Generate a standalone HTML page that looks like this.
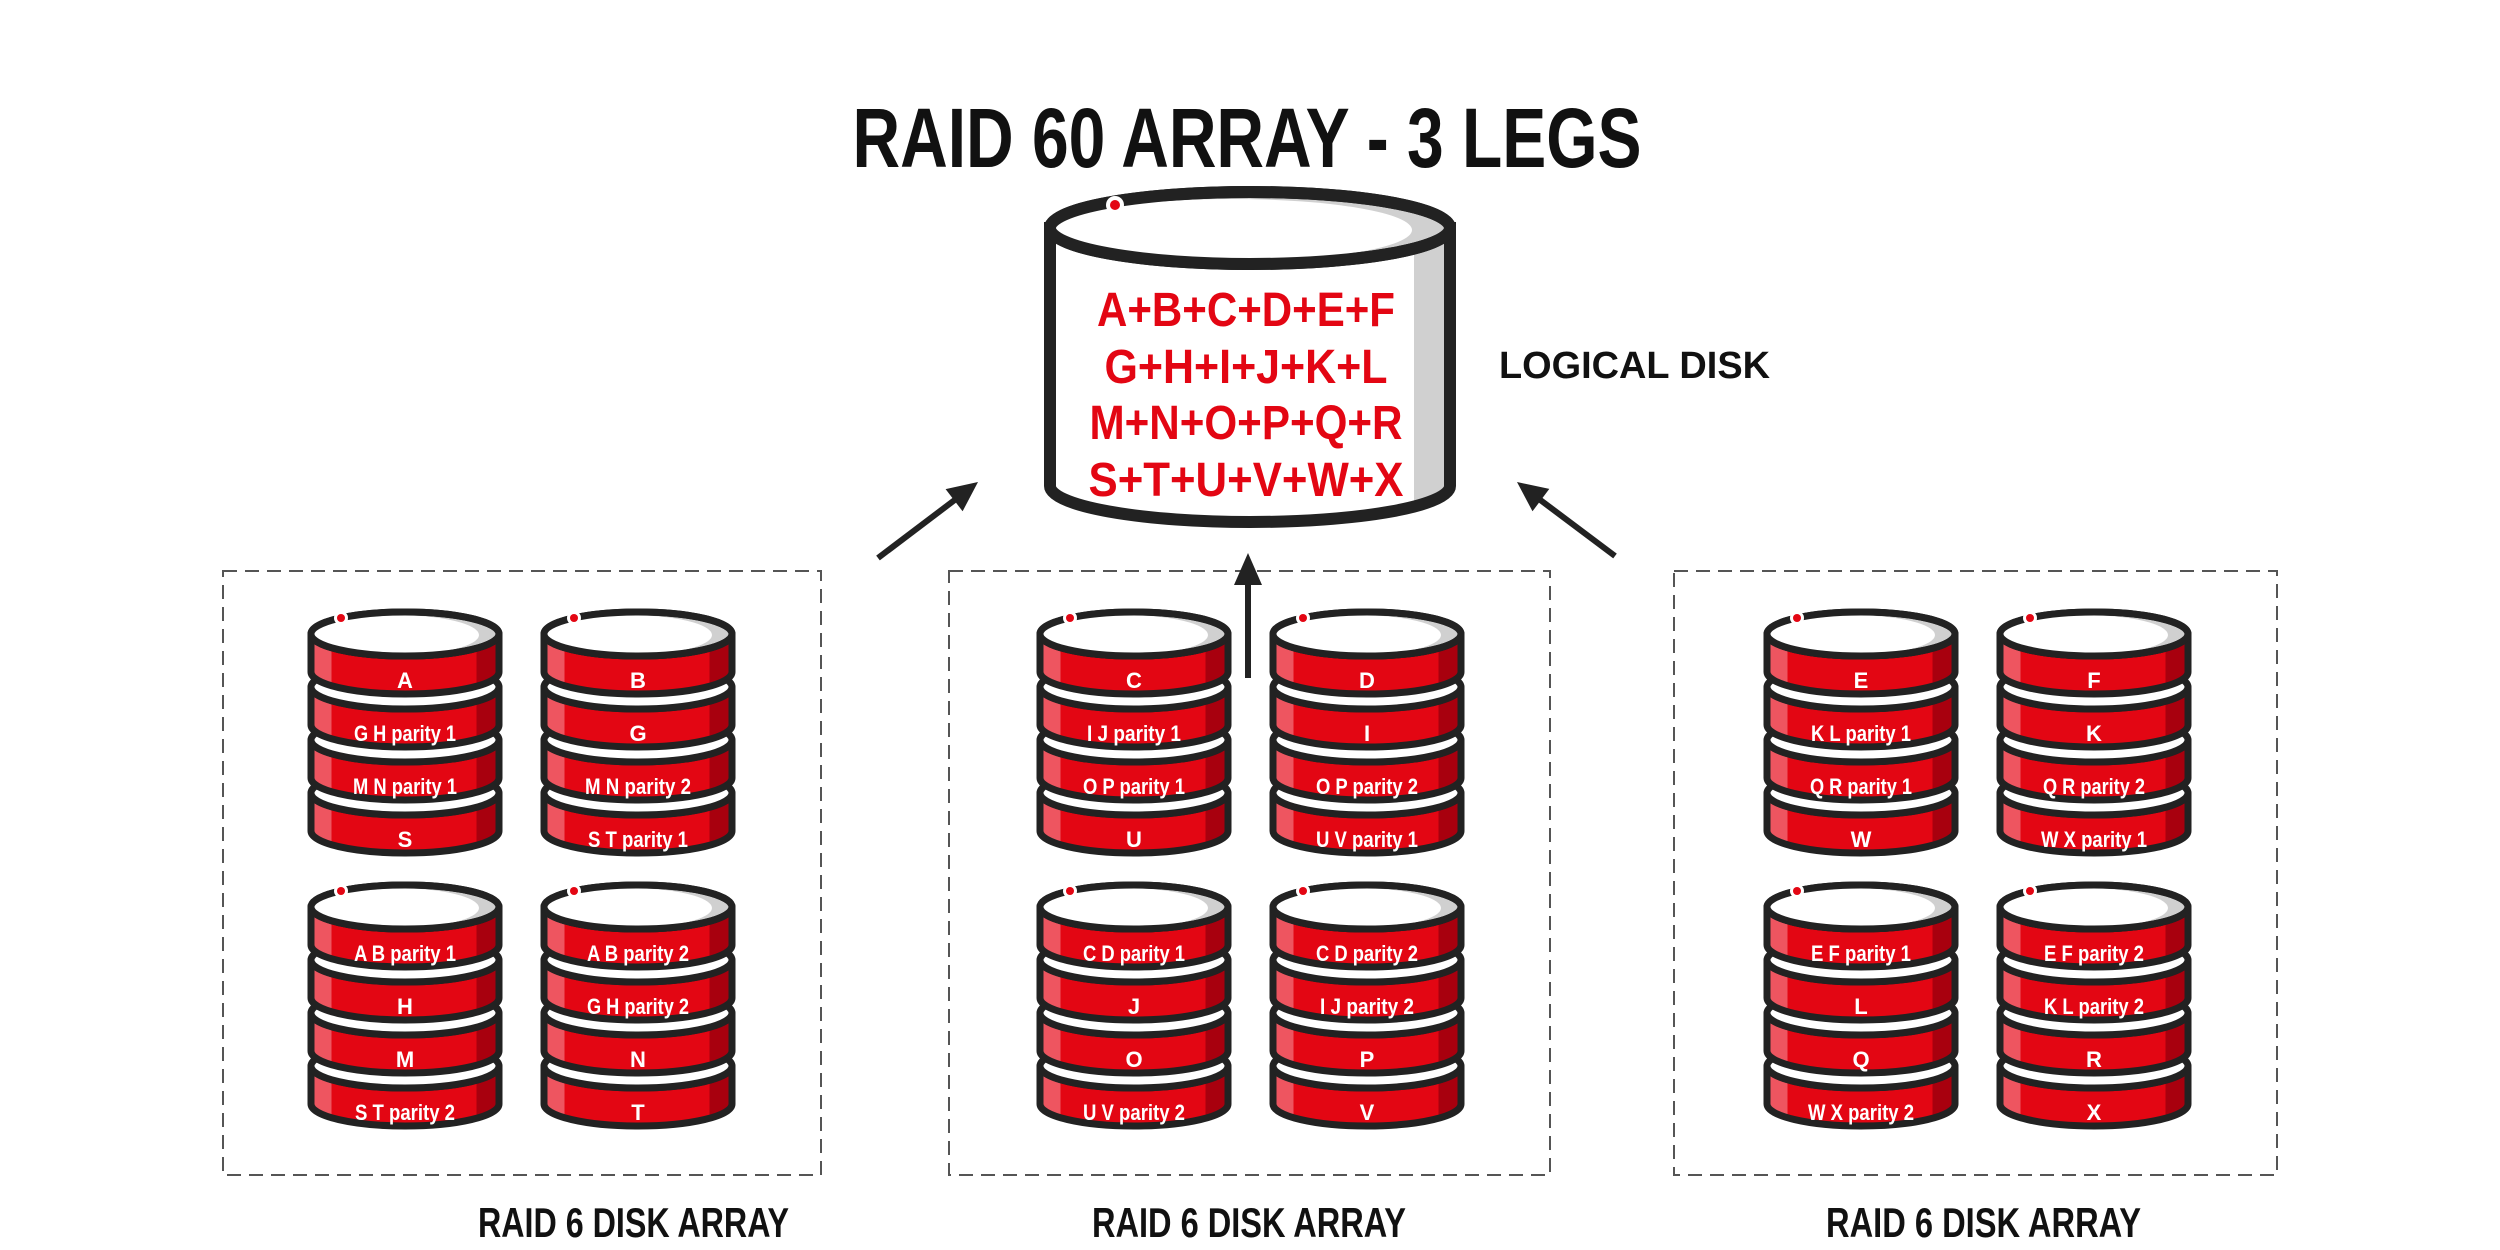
<!DOCTYPE html>
<html><head><meta charset="utf-8"><style>
html,body{margin:0;padding:0;background:#fff;}
svg{display:block;}
.t{font-family:"Liberation Sans Narrow","Liberation Sans",sans-serif;font-weight:bold;}
.l{font-family:"Liberation Sans Narrow","Liberation Sans",sans-serif;font-weight:bold;fill:#fff;font-size:22px;text-anchor:middle;}
</style></head><body>
<svg width="2500" height="1250" viewBox="0 0 2500 1250" xmlns="http://www.w3.org/2000/svg">
<defs>
<linearGradient id="side" x1="0" x2="1" y1="0" y2="0">
<stop offset="0" stop-color="#ee5560"/><stop offset="0.11" stop-color="#ee5560"/>
<stop offset="0.11" stop-color="#e30613"/><stop offset="0.88" stop-color="#e30613"/>
<stop offset="0.88" stop-color="#a8000e"/><stop offset="1" stop-color="#a8000e"/>
</linearGradient>
<linearGradient id="bigside" x1="0" x2="1" y1="0" y2="0">
<stop offset="0" stop-color="#fff"/><stop offset="0.91" stop-color="#fff"/><stop offset="0.91" stop-color="#d0d0d0"/><stop offset="1" stop-color="#d0d0d0"/>
</linearGradient>
<g id="stack" stroke="#222" stroke-width="7" stroke-linejoin="round">
<path d="M6 185 V223 A94 22 0 0 0 194 223 V185 A94 22 0 0 1 6 185 Z" fill="url(#side)"/>
<ellipse cx="100" cy="185" rx="94" ry="22" fill="#fff"/>
<path d="M6 132 V170 A94 22 0 0 0 194 170 V132 A94 22 0 0 1 6 132 Z" fill="url(#side)"/>
<ellipse cx="100" cy="132" rx="94" ry="22" fill="#fff"/>
<path d="M6 79 V117 A94 22 0 0 0 194 117 V79 A94 22 0 0 1 6 79 Z" fill="url(#side)"/>
<ellipse cx="100" cy="79" rx="94" ry="22" fill="#fff"/>
<path d="M6 26 V64 A94 22 0 0 0 194 64 V26 A94 22 0 0 1 6 26 Z" fill="url(#side)"/>
<ellipse cx="100" cy="26" rx="94" ry="22" fill="#d0d0d0"/>
<ellipse cx="90" cy="27" rx="84" ry="20" fill="#fff" stroke="none"/>
<ellipse cx="100" cy="26" rx="94" ry="22" fill="none"/>
<circle cx="36" cy="10" r="7" fill="#fff" stroke="none"/>
<circle cx="36" cy="10" r="4" fill="#e30613" stroke="none"/>
</g>
</defs>

<text class="t" x="1247" y="167" font-size="84" text-anchor="middle" textLength="789" lengthAdjust="spacingAndGlyphs" fill="#111">RAID 60 ARRAY - 3 LEGS</text>

<g stroke="#222" stroke-width="12">
<path d="M1050 228 V486 A200 36 0 0 0 1450 486 V228 Z" fill="url(#bigside)"/>
<ellipse cx="1250" cy="228" rx="200" ry="36" fill="#d0d0d0"/>
<ellipse cx="1232" cy="230" rx="180" ry="31" fill="#fff" stroke="none"/>
<ellipse cx="1250" cy="228" rx="200" ry="36" fill="none"/>
</g>
<circle cx="1115" cy="205" r="9" fill="#fff"/>
<circle cx="1115" cy="205" r="5" fill="#e30613"/>
<g class="t" fill="#e30613" font-size="48" text-anchor="middle">
<text x="1246" y="326" textLength="298" lengthAdjust="spacingAndGlyphs">A+B+C+D+E+F</text>
<text x="1246" y="383" textLength="283" lengthAdjust="spacingAndGlyphs">G+H+I+J+K+L</text>
<text x="1246" y="439" textLength="313" lengthAdjust="spacingAndGlyphs">M+N+O+P+Q+R</text>
<text x="1246" y="496" textLength="315" lengthAdjust="spacingAndGlyphs">S+T+U+V+W+X</text>
</g>
<text class="t" x="1499" y="378" font-size="38" textLength="271" lengthAdjust="spacingAndGlyphs" fill="#111">LOGICAL DISK</text>

<g fill="none" stroke="#555" stroke-width="2" stroke-dasharray="14 8">
<rect x="223" y="571" width="598" height="604"/>
<rect x="949" y="571" width="601" height="604"/>
<rect x="1674" y="571" width="603" height="604"/>
</g>

<g stroke="#222" stroke-width="6">
<line x1="878" y1="558" x2="956" y2="499"/>
<line x1="1248" y1="678" x2="1248" y2="582"/>
<line x1="1615" y1="556" x2="1539" y2="499"/>
</g>
<g fill="#222">
<polygon points="978,482 962.6,511.3 945.6,489.1"/>
<polygon points="1248,553 1262,585 1234,585"/>
<polygon points="1517,482 1549.3,488.9 1532.5,511.3"/>
</g>

<use href="#stack" x="305" y="608"/><use href="#stack" x="538" y="608"/>
<use href="#stack" x="305" y="881"/><use href="#stack" x="538" y="881"/>
<use href="#stack" x="1034" y="608"/><use href="#stack" x="1267" y="608"/>
<use href="#stack" x="1034" y="881"/><use href="#stack" x="1267" y="881"/>
<use href="#stack" x="1761" y="608"/><use href="#stack" x="1994" y="608"/>
<use href="#stack" x="1761" y="881"/><use href="#stack" x="1994" y="881"/>

<g class="l">
<text x="405" y="688">A</text>
<text x="405" y="741" textLength="102" lengthAdjust="spacingAndGlyphs">G H parity 1</text>
<text x="405" y="794" textLength="104" lengthAdjust="spacingAndGlyphs">M N parity 1</text>
<text x="405" y="847">S</text>
<text x="638" y="688">B</text>
<text x="638" y="741">G</text>
<text x="638" y="794" textLength="106" lengthAdjust="spacingAndGlyphs">M N parity 2</text>
<text x="638" y="847" textLength="100" lengthAdjust="spacingAndGlyphs">S T parity 1</text>
<text x="405" y="961" textLength="102" lengthAdjust="spacingAndGlyphs">A B parity 1</text>
<text x="405" y="1014">H</text>
<text x="405" y="1067">M</text>
<text x="405" y="1120" textLength="100" lengthAdjust="spacingAndGlyphs">S T parity 2</text>
<text x="638" y="961" textLength="102" lengthAdjust="spacingAndGlyphs">A B parity 2</text>
<text x="638" y="1014" textLength="102" lengthAdjust="spacingAndGlyphs">G H parity 2</text>
<text x="638" y="1067">N</text>
<text x="638" y="1120">T</text>

<text x="1134" y="688">C</text>
<text x="1134" y="741" textLength="94" lengthAdjust="spacingAndGlyphs">I J parity 1</text>
<text x="1134" y="794" textLength="102" lengthAdjust="spacingAndGlyphs">O P parity 1</text>
<text x="1134" y="847">U</text>
<text x="1367" y="688">D</text>
<text x="1367" y="741">I</text>
<text x="1367" y="794" textLength="102" lengthAdjust="spacingAndGlyphs">O P parity 2</text>
<text x="1367" y="847" textLength="102" lengthAdjust="spacingAndGlyphs">U V parity 1</text>
<text x="1134" y="961" textLength="102" lengthAdjust="spacingAndGlyphs">C D parity 1</text>
<text x="1134" y="1014">J</text>
<text x="1134" y="1067">O</text>
<text x="1134" y="1120" textLength="102" lengthAdjust="spacingAndGlyphs">U V parity 2</text>
<text x="1367" y="961" textLength="102" lengthAdjust="spacingAndGlyphs">C D parity 2</text>
<text x="1367" y="1014" textLength="94" lengthAdjust="spacingAndGlyphs">I J parity 2</text>
<text x="1367" y="1067">P</text>
<text x="1367" y="1120">V</text>

<text x="1861" y="688">E</text>
<text x="1861" y="741" textLength="100" lengthAdjust="spacingAndGlyphs">K L parity 1</text>
<text x="1861" y="794" textLength="102" lengthAdjust="spacingAndGlyphs">Q R parity 1</text>
<text x="1861" y="847">W</text>
<text x="2094" y="688">F</text>
<text x="2094" y="741">K</text>
<text x="2094" y="794" textLength="102" lengthAdjust="spacingAndGlyphs">Q R parity 2</text>
<text x="2094" y="847" textLength="106" lengthAdjust="spacingAndGlyphs">W X parity 1</text>
<text x="1861" y="961" textLength="100" lengthAdjust="spacingAndGlyphs">E F parity 1</text>
<text x="1861" y="1014">L</text>
<text x="1861" y="1067">Q</text>
<text x="1861" y="1120" textLength="106" lengthAdjust="spacingAndGlyphs">W X parity 2</text>
<text x="2094" y="961" textLength="100" lengthAdjust="spacingAndGlyphs">E F parity 2</text>
<text x="2094" y="1014" textLength="100" lengthAdjust="spacingAndGlyphs">K L parity 2</text>
<text x="2094" y="1067">R</text>
<text x="2094" y="1120">X</text>
</g>

<g class="t" fill="#111" font-size="42">
<text x="478" y="1237" textLength="311" lengthAdjust="spacingAndGlyphs">RAID 6 DISK ARRAY</text>
<text x="1092" y="1237" textLength="314" lengthAdjust="spacingAndGlyphs">RAID 6 DISK ARRAY</text>
<text x="1826" y="1237" textLength="315" lengthAdjust="spacingAndGlyphs">RAID 6 DISK ARRAY</text>
</g>
</svg>
</body></html>
